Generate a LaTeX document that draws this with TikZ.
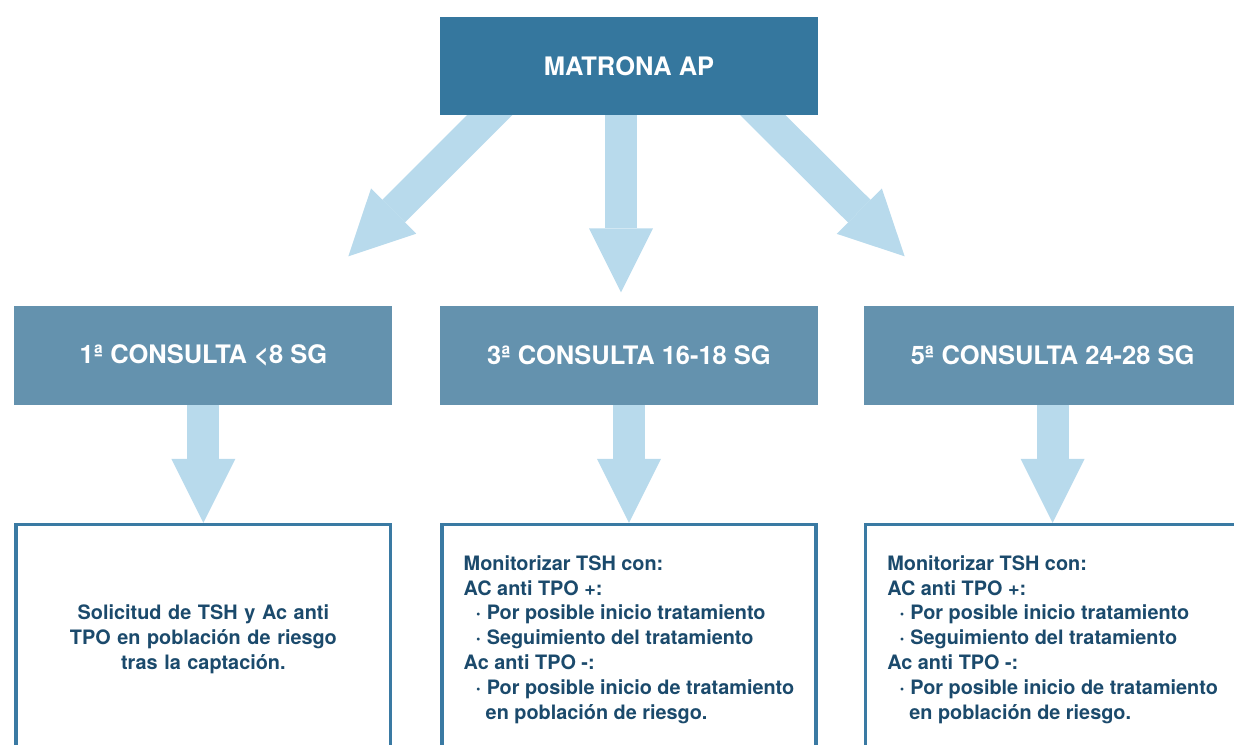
\documentclass[tikz,border=0pt]{standalone}
\usepackage{fontspec}
\setmainfont{TeX Gyre Heros}
\usetikzlibrary{positioning, arrows.meta, backgrounds}
\definecolor{azuloscuro}{RGB}{53,119,158}
\definecolor{azulmedio}{RGB}{100,146,174}
\definecolor{azulclaro}{RGB}{184,218,236}
\definecolor{azultexto}{RGB}{27,74,108}
\definecolor{azulborde}{RGB}{58,122,163}
\tikzstyle{matrona} = [rectangle, minimum width=7.56cm, minimum height=1.96cm, text centered, fill=azuloscuro, text=white, font=\bfseries\fontsize{14.5}{17}\selectfont]
\tikzstyle{consulta} = [rectangle, minimum width=7.56cm, minimum height=1.98cm, text centered, fill=azulmedio, text=white, font=\bfseries\fontsize{14.5}{17}\selectfont]
\tikzstyle{texto} = [rectangle, draw=azulborde, line width=0.07cm, fill=white, minimum width=7.49cm, minimum height=4.6cm, align=left, text=azultexto, font=\bfseries\fontsize{11.3}{14.2}\selectfont]
\tikzstyle{flecha} = [line width=0.64cm, draw=azulclaro, -{Triangle[length=1.28cm, width=1.28cm, line width=0pt]}]

\begin{document}
\begin{tikzpicture}[x=0.02cm, y=-0.02cm]
\useasboundingbox (0,0) rectangle (1234,744);
\clip (0,0) rectangle (1234,744);

\node (top) [matrona] at (629,66) {MATRONA AP};
\node (c3) [consulta, below=3.8cm of top] {3ª CONSULTA 16-18 SG};
\node (c1) [consulta, left=0.94cm of c3] {1ª CONSULTA <8 SG};
\node (c5) [consulta, right=0.9cm of c3] {5ª CONSULTA 24-28 SG};

\node (t1) [texto, text width=6.72cm, align=center, below=2.36cm of c1] {Solicitud de TSH y Ac anti\\TPO en población de riesgo\\tras la captación.};
\node (t3) [texto, below=2.36cm of c3] {Monitorizar TSH con:\\AC anti TPO +:\\\hspace*{0.24cm}· Por posible inicio tratamiento\\\hspace*{0.24cm}· Seguimiento del tratamiento\\Ac anti TPO -:\\\hspace*{0.24cm}· Por posible inicio de tratamiento\\\hspace*{0.44cm}en población de riesgo.};
\node (t5) [texto, below=2.36cm of c5] {Monitorizar TSH con:\\AC anti TPO +:\\\hspace*{0.24cm}· Por posible inicio tratamiento\\\hspace*{0.24cm}· Seguimiento del tratamiento\\Ac anti TPO -:\\\hspace*{0.24cm}· Por posible inicio de tratamiento\\\hspace*{0.44cm}en población de riesgo.};

% flechas desde matrona
\begin{scope}[on background layer]
\draw [flecha] ([xshift=-2.29cm, yshift=0.5cm]top.south) -- ([xshift=2.9cm, yshift=0.98cm]c1.north);
\draw [flecha] ([xshift=-0.16cm]top.south) -- ([xshift=-0.16cm, yshift=0.26cm]c3.north);
\draw [flecha] ([xshift=2.18cm, yshift=0.5cm]top.south) -- ([xshift=-2.96cm, yshift=0.98cm]c5.north);
\end{scope}

\draw [flecha] (c1.south) -- (t1.north);
\draw [flecha] (c3.south) -- (t3.north);
\draw [flecha] (c5.south) -- (t5.north);

\end{tikzpicture}
\end{document}
